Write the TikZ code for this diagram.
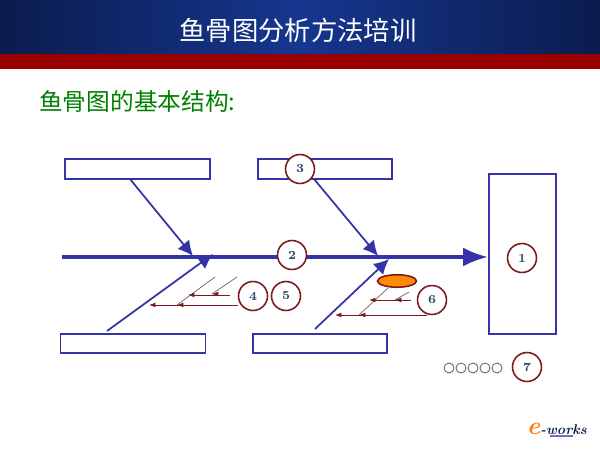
\documentclass[tikz,border=0pt]{standalone}
\usepackage{fontspec}
\newfontfamily\cjk{Noto Sans CJK SC}
\usetikzlibrary{arrows.meta, shapes.geometric}
\pgfdeclarelayer{bg}
\pgfsetlayers{bg,main}
\definecolor{navy}{HTML}{0B1C4E}
\definecolor{royal}{HTML}{16378F}
\definecolor{barred}{HTML}{990000}
\definecolor{bone}{HTML}{3434A8}
\definecolor{ring}{HTML}{7C1A1E}
\definecolor{digit}{HTML}{2F4468}
\tikzstyle{cause}=[draw=bone, line width=0.9pt, fill=white, minimum width=2.9cm, minimum height=0.39cm, inner sep=0pt]
\tikzstyle{num}=[draw=ring, line width=0.9pt, fill=white, shape=circle, minimum size=0.58cm, inner sep=0pt, text=digit, font=\scriptsize\bfseries]
\tikzstyle{dot}=[draw=gray!80!black, line width=0.5pt, shape=circle, minimum size=0.2cm, inner sep=0pt]
\tikzstyle{spine}=[-{Latex[length=0.5cm,width=0.38cm]}, draw=bone, line width=2.3pt]
\tikzstyle{rib}=[-{Latex[length=0.3cm,width=0.3cm]}, draw=bone, line width=1pt]
\tikzstyle{twig}=[draw=gray!80!black, line width=0.4pt]
\tikzstyle{redarrow}=[-{Latex[length=0.13cm,width=0.1cm]}, draw=ring, line width=0.5pt]

\begin{document}
\begin{tikzpicture}[x=0.02cm, y=-0.02cm]
    \useasboundingbox (0, 0) rectangle (600, 450);

    \begin{pgfonlayer}{bg}
        \path [left color=navy, right color=navy, middle color=royal] (0, 0) rectangle (600, 54);
        \fill [barred] (0, 54) rectangle (600, 69);
    \end{pgfonlayer}

    \node [text=white, font=\cjk\fontsize{15}{17}\selectfont] (title) at (298, 30) {鱼骨图分析方法培训};
    \node [text=green!50!black, anchor=west, font=\cjk\fontsize{13.5}{16}\selectfont] (head) at (33, 101) {鱼骨图的基本结构:};

    \node [cause] (ta) at (137.5, 169) {};
    \node [cause, minimum width=2.68cm] (tb) at (325, 169) {};
    \node [cause] (ba) at (133, 343.5) {};
    \node [cause, minimum width=2.68cm] (bb) at (320, 343.5) {};
    \node [cause, minimum width=1.34cm, minimum height=3.2cm] (head1) at (522.5, 254) {};

    \node [draw=ring, line width=0.9pt, fill=orange!90!yellow, shape=ellipse, minimum width=0.78cm, minimum height=0.25cm, inner sep=0pt] (oval) at (397, 281) {};

    \coordinate (s0) at (62, 257);
    \coordinate (r1) at (130, 179);
    \coordinate (r1e) at (193, 256);
    \coordinate (r2) at (314, 179);
    \coordinate (r2e) at (378, 256);
    \coordinate (r3) at (107, 331);
    \coordinate (r3e) at (213, 254);
    \coordinate (r4) at (315, 329);
    \coordinate (r4e) at (389, 259);

    % small branches, left
    \coordinate (g1) at (215, 277);
    \coordinate (g1e) at (177, 305);
    \coordinate (g2) at (237, 277);
    \coordinate (g2e) at (212, 294);
    \coordinate (p1) at (238, 305);
    \coordinate (p1e) at (149, 305);
    \coordinate (p2) at (230, 295);
    \coordinate (p2e) at (188, 295);
    % small branches, right
    \coordinate (g3) at (388, 288);
    \coordinate (g3e) at (359, 315);
    \coordinate (g4) at (409, 292);
    \coordinate (g4e) at (395, 300);
    \coordinate (p3) at (427, 315);
    \coordinate (p3e) at (335, 315);
    \coordinate (p4) at (411, 300);
    \coordinate (p4e) at (369, 300);

    \begin{pgfonlayer}{bg}
        \draw [spine] (s0) -- (s0 -| head1.west);
        \draw [rib] (r1) -- (r1e);
        \draw [rib] (r2) -- (r2e);
        \draw [rib] (r3) -- (r3e);
        \draw [rib] (r4) -- (r4e);
        \draw [twig] (g1) -- (g1e);
        \draw [twig] (g2) -- (g2e);
        \draw [twig] (g3) -- (g3e);
        \draw [twig] (g4) -- (g4e);
        \draw [redarrow] (p1) -- (p1e);
        \draw [redarrow] (p2) -- (p2e);
        \draw [redarrow] (p3) -- (p3e);
        \draw [redarrow] (p4) -- (p4e);
        \draw [redarrow] (g1e) ++(3,0) -- ++(-3,0);
        \draw [redarrow] (g2e) ++(3,0) -- ++(-3,0);
        \draw [redarrow] (g3e) ++(3,0) -- ++(-3,0);
        \draw [redarrow] (g4e) ++(3,0) -- ++(-3,0);
    \end{pgfonlayer}

    \node [num] (n1) at (522, 258) {1};
    \node [num] (n2) at (292, 255) {2};
    \node [num] (n3) at (300, 169) {3};
    \node [num] (n4) at (253, 296) {4};
    \node [num] (n5) at (286, 296) {5};
    \node [num] (n6) at (432, 300) {6};
    \node [num] (n7) at (527, 367) {7};

    \foreach \i/\x in {1/449, 2/461, 3/473, 4/485, 5/497} {
        \node [dot] (d\i) at (\x, 368) {};
    }

    \node [anchor=east, inner sep=0pt, font=\footnotesize\bfseries\itshape, text=navy] (logo) at (587, 429) {\textcolor{orange}{\Large e}-works};
    \fill [bone!70] (550, 435) rectangle (573, 437);
\end{tikzpicture}
\end{document}
